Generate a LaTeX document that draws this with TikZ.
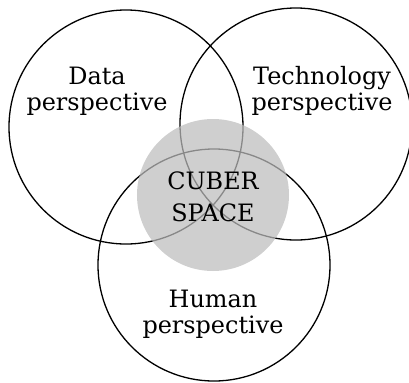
\documentclass[tikz,border=0pt]{standalone}
\usepackage{fontspec}
\setmainfont{DejaVu Serif}
\tikzset{
    ring/.style={draw, shape=circle, line width=1.3bp, inner sep=0pt},
    label/.style={inner sep=0pt, align=center, font=\fontsize{24}{26}\selectfont},
}

\begin{document}
\begin{tikzpicture}[x=1bp, y=-1bp]
    \useasboundingbox (0,0) rectangle (409,383);
    \node(data)[ring, minimum size=234bp] at (126,127) {};
    \node(tech)[ring, minimum size=232bp] at (296,124) {};
    \node(human)[ring, minimum size=232bp] at (214,265) {};
    \node(cyber)[circle, fill=black!26, fill opacity=0.72, minimum size=152bp, inner sep=0pt] at (213,195) {};
    \node(datatext)[label] at (97,91) {Data\\perspective};
    \node(techtext)[label] at (322,91) {Technology\\perspective};
    \node(humantext)[label] at (213,314) {Human\\perspective};
    \node(cybertext)[label, font=\fontsize{24}{32}\selectfont] at (213,197) {CUBER\\SPACE};
\end{tikzpicture}
\end{document}
